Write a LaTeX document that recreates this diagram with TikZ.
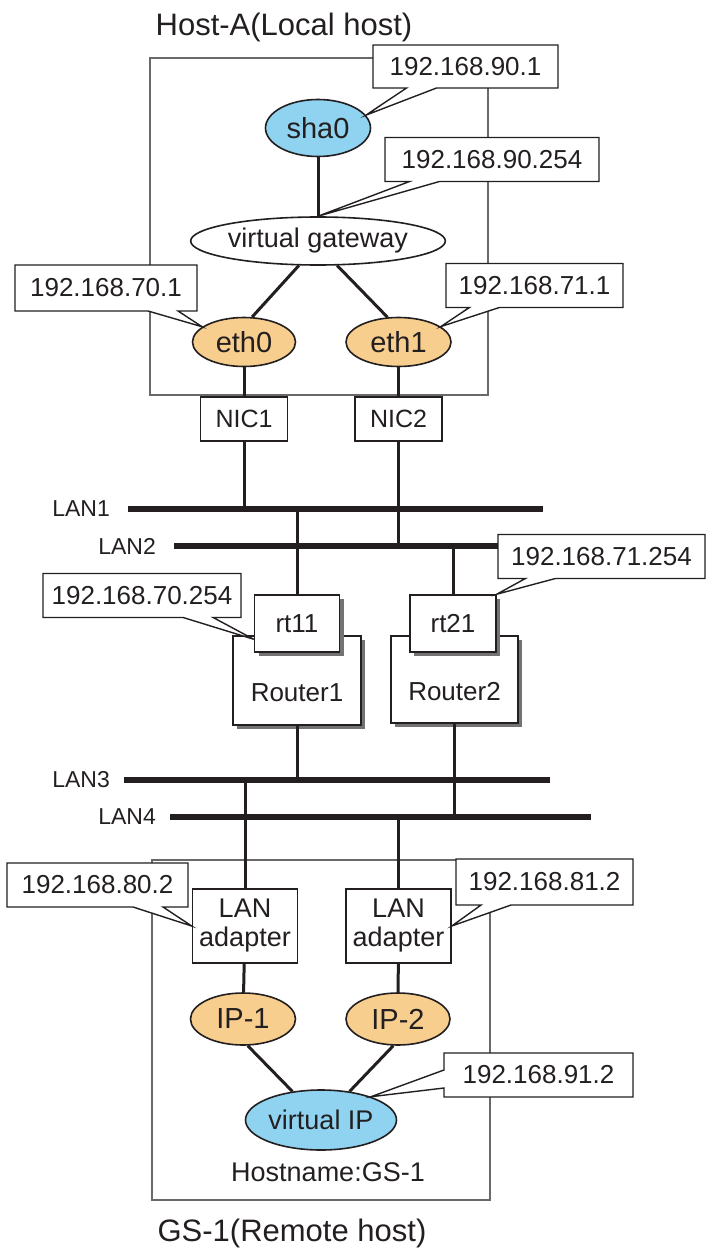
\documentclass[tikz,border=0pt]{standalone}
\usepackage{fontspec}
\setmainfont{Liberation Sans}
\usetikzlibrary{positioning,shapes.geometric,shapes.callouts,shadows}
\definecolor{vblue}{RGB}{143,211,240}
\definecolor{ifgold}{RGB}{247,206,142}
\definecolor{ink}{RGB}{35,31,32}
\definecolor{hostgray}{RGB}{105,105,105}
\tikzset{
  hostbox/.style={draw=hostgray, line width=1.6pt, inner sep=0pt},
  hosttitle/.style={font=\fontsize{31}{36}\selectfont, text=ink, inner sep=0pt},
  vnode/.style={ellipse, draw=ink, line width=1.6pt, fill=vblue, inner sep=0pt, text=ink, font=\fontsize{29}{34}\selectfont},
  ifnode/.style={vnode, fill=ifgold},
  nicbox/.style={draw=ink, line width=1.6pt, fill=white, inner sep=0pt, text=ink, font=\fontsize{25}{30}\selectfont, align=center},
  rtbox/.style={nicbox, font=\fontsize{26}{30}\selectfont, drop shadow={shadow xshift=4pt, shadow yshift=-4pt, fill=black!55, opacity=1}},
  adpbox/.style={nicbox, font=\fontsize{27}{29}\selectfont},
  addr/.style={rectangle callout, draw=ink, line width=1.4pt, fill=white, inner sep=0pt, minimum height=44pt, text=ink, font=\fontsize{26}{30}\selectfont, callout pointer width=30pt},
  link/.style={draw=ink, line width=3pt},
  lan/.style={draw=ink, line width=6pt},
  lanlabel/.style={font=\fontsize{23}{28}\selectfont, text=ink, inner sep=0pt}
}

\begin{document}
\begin{tikzpicture}[x=1pt, y=-1pt]
\useasboundingbox (0,0) rectangle (707,1252);

% hosts
\node[hostbox, minimum width=338pt, minimum height=337pt] (hosta) at (319,226.5) {};
\node[hosttitle] (titlea) at (284,27) {Host-A(Local host)};
\node[hostbox, minimum width=338pt, minimum height=340pt] (gs1) at (321,1030) {};
\node[hosttitle] (titleb) at (292,1233) {GS-1(Remote host)};

% LAN buses
\coordinate (lan1w) at (128,509);  \coordinate (lan1e) at (543,509);
\coordinate (lan2w) at (174,546);  \coordinate (lan2e) at (590,546);
\coordinate (lan3w) at (124,780);  \coordinate (lan3e) at (550,780);
\coordinate (lan4w) at (170,817);  \coordinate (lan4e) at (591,817);
\draw[lan] (lan1w) -- (lan1e);
\draw[lan] (lan2w) -- (lan2e);
\draw[lan] (lan3w) -- (lan3e);
\draw[lan] (lan4w) -- (lan4e);
\node[lanlabel, left=18pt of lan1w] (lan1) {LAN1};
\node[lanlabel, left=18pt of lan2w] (lan2) {LAN2};
\node[lanlabel, left=14pt of lan3w] (lan3) {LAN3};
\node[lanlabel, left=14pt of lan4w] (lan4) {LAN4};

% Host-A
\node[vnode, minimum width=105pt, minimum height=57pt] (sha0) at (318,128) {sha0};
\node[vnode, fill=white, font=\fontsize{27}{32}\selectfont, minimum width=215pt, minimum height=48pt] (vgw) at (318,241) {virtual gateway};
\node[ifnode, minimum width=103pt, minimum height=49pt] (eth0) at (244,342) {eth0};
\node[ifnode, minimum width=105pt, minimum height=49pt] (eth1) at (398.5,342) {eth1};
\node[nicbox, minimum width=87pt, minimum height=44pt] (nic1) at (244,419) {NIC1};
\node[nicbox, minimum width=87pt, minimum height=44pt] (nic2) at (398.5,419) {NIC2};

% routers
\node[rtbox, minimum width=128pt, minimum height=89pt, text height=42pt] (router1) at (297,680.5) {Router1};
\node[rtbox, minimum width=85pt, minimum height=57pt] (rt11) at (297,623.5) {rt11};
\node[rtbox, minimum width=127pt, minimum height=87pt, text height=42pt] (router2) at (454.5,679.5) {Router2};
\node[rtbox, minimum width=86pt, minimum height=57pt] (rt21) at (453,623.5) {rt21};

% GS-1
\node[adpbox, minimum width=105pt, minimum height=74pt] (adp1) at (245,926) {LAN\\adapter};
\node[adpbox, minimum width=105pt, minimum height=74pt] (adp2) at (398.5,926) {LAN\\adapter};
\node[ifnode, minimum width=105pt, minimum height=52pt] (ip1) at (243,1019) {IP-1};
\node[ifnode, minimum width=104pt, minimum height=52pt] (ip2) at (398,1019) {IP-2};
\node[vnode, font=\fontsize{27}{32}\selectfont, minimum width=151pt, minimum height=60pt] (vip) at (321,1120) {virtual IP};
\node[lanlabel, font=\fontsize{27}{32}\selectfont] (hostname) at (328,1172) {Hostname:GS-1};

% links
\draw[link] (sha0) -- (vgw);
\draw[link] (vgw.-128) -- (eth0.72);
\draw[link] (vgw.-52) -- (eth1.114);
\draw[link] (eth0) -- (nic1);
\draw[link] (eth1) -- (nic2);
\draw[link] (nic1) -- (nic1 |- lan1w);
\draw[link] (nic2) -- (nic2 |- lan2w);
\draw[link] (rt11) -- (rt11 |- lan1w);
\draw[link] (rt21) -- (rt21 |- lan2w);
\draw[link] (router1) -- (router1 |- lan3w);
\draw[link] (router2) -- (router2 |- lan4w);
\draw[link] (adp1) -- (adp1 |- lan3w);
\draw[link] (adp2) -- (adp2 |- lan4w);
\draw[link] (adp1) -- (ip1);
\draw[link] (adp2) -- (ip2);
\draw[link] (ip1.-80) -- (vip.135);
\draw[link] (ip2.-100) -- (vip.45);

% addresses
\node[addr, minimum width=185pt, minimum height=43pt, callout absolute pointer={(sha0.15)}] (a901) at (465.5,66.5) {192.168.90.1};
\node[addr, minimum width=214pt, callout absolute pointer={(vgw.north)}] (a90254) at (492,159.5) {192.168.90.254};
\node[addr, minimum width=182pt, minimum height=46pt, callout absolute pointer={(eth0.160)}] (a701) at (106,288) {192.168.70.1};
\node[addr, minimum width=177pt, callout absolute pointer={(eth1.20)}] (a711) at (534.5,285.5) {192.168.71.1};
\node[addr, minimum width=198pt, callout absolute pointer={(rt11.200)}] (a70254) at (142,595.5) {192.168.70.254};
\node[addr, minimum width=207pt, callout absolute pointer={(rt21.north east)}] (a71254) at (601.5,556.5) {192.168.71.254};
\node[addr, minimum width=181pt, callout absolute pointer={(adp1.west)}] (a802) at (97.5,885) {192.168.80.2};
\node[addr, minimum width=177pt, minimum height=46pt, callout absolute pointer={(adp2.east)}] (a812) at (544.5,882) {192.168.81.2};
\node[addr, minimum width=189pt, callout pointer width=18pt, callout absolute pointer={(vip.25)}] (a912) at (538.5,1075) {192.168.91.2};
\end{tikzpicture}
\end{document}
